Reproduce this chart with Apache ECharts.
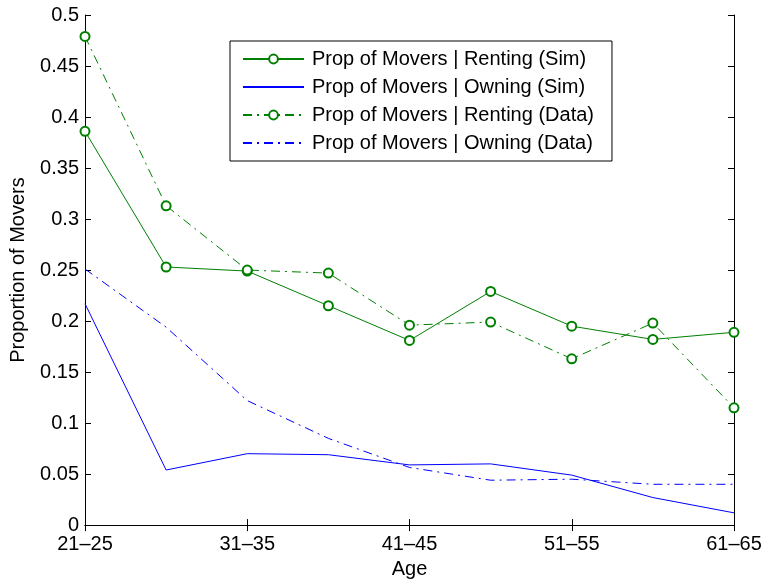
<!DOCTYPE html>
<html>
<head>
<meta charset="utf-8">
<script src="https://cdn.jsdelivr.net/npm/echarts@6/dist/echarts.min.js"></script>
<style>html,body{margin:0;padding:0;background:#fff}#c{width:768px;height:584px}</style>
</head>
<body>
<div id="c"></div>
<script>
const categories = ['21–25','26–30','31–35','36–40','41–45','46–50','51–55','56–60','61–65'];
const rentingSim  = [0.386, 0.253, 0.249, 0.215, 0.181, 0.229, 0.195, 0.182, 0.189];
const owningSim   = [0.217, 0.054, 0.070, 0.069, 0.059, 0.060, 0.049, 0.027, 0.012];
const rentingData = [0.479, 0.313, 0.250, 0.247, 0.196, 0.199, 0.163, 0.198, 0.115];
const owningData  = [0.251, 0.194, 0.122, 0.085, 0.0565, 0.044, 0.045, 0.040, 0.040];
const seriesNames = ['Prop of Movers | Renting (Sim)','Prop of Movers | Owning (Sim)','Prop of Movers | Renting (Data)','Prop of Movers | Owning (Data)'];

const FONT = 'Liberation Sans';
const FS = 20;
const green = '#008000', blue = '#0000ff';
const dashDot = [9, 5, 2, 5];

const chart = echarts.init(document.getElementById('c'), null, {renderer: 'canvas'});
const axisLine = {show: true, lineStyle: {color: '#000', width: 1}};
const tick = {show: true, inside: true, length: 6, lineStyle: {color: '#000', width: 1}};
chart.setOption({
  animation: false,
  backgroundColor: '#fff',
  textStyle: {fontFamily: FONT},
  grid: {left: 83, right: 34, top: 15, bottom: 56, containLabel: false},
  legend: {
    orient: 'vertical', left: 230, top: 41,
    data: [
      {name: seriesNames[0]},
      {name: seriesNames[1], itemStyle: {opacity: 0}},
      {name: seriesNames[2]},
      {name: seriesNames[3], itemStyle: {opacity: 0}}
    ],
    backgroundColor: '#fff', borderColor: '#000', borderWidth: 1,
    padding: [8, 18, 8, 12], itemGap: 8, itemWidth: 61, itemHeight: 11,
    textStyle: {fontFamily: FONT, fontSize: FS, color: '#000', padding: [0, 0, 0, 3]}
  },
  xAxis: [{
    type: 'category', data: categories, boundaryGap: false,
    name: 'Age', nameLocation: 'middle', nameGap: 33,
    nameTextStyle: {fontFamily: FONT, fontSize: FS, color: '#000'},
    axisLine: axisLine,
    axisTick: Object.assign({}, tick, {interval: 1}),
    axisLabel: {interval: 1, fontFamily: FONT, fontSize: FS, color: '#000', margin: 9},
    splitLine: {show: false}
  }, {
    type: 'category', data: categories, boundaryGap: false, position: 'top',
    axisLine: axisLine, axisTick: Object.assign({}, tick, {interval: 1}),
    axisLabel: {show: false}, splitLine: {show: false}
  }],
  yAxis: [{
    type: 'value', min: 0, max: 0.5, interval: 0.05,
    name: 'Proportion of Movers', nameLocation: 'middle', nameGap: 57,
    nameTextStyle: {fontFamily: FONT, fontSize: FS, color: '#000'},
    axisLine: axisLine, axisTick: tick,
    axisLabel: {fontFamily: FONT, fontSize: FS, color: '#000', margin: 6},
    splitLine: {show: false}
  }, {
    type: 'value', min: 0, max: 0.5, interval: 0.05, position: 'right',
    axisLine: axisLine, axisTick: tick, axisLabel: {show: false}, splitLine: {show: false}
  }],
  series: [
    {name: seriesNames[0], type: 'line', data: rentingSim, symbol: 'emptyCircle', symbolSize: 9,
     lineStyle: {color: green, width: 1, type: 'solid'}, itemStyle: {color: green, borderWidth: 0.9}},
    {name: seriesNames[1], type: 'line', data: owningSim, symbol: 'none',
     lineStyle: {color: blue, width: 1, type: 'solid'}, itemStyle: {color: blue}},
    {name: seriesNames[2], type: 'line', data: rentingData, symbol: 'emptyCircle', symbolSize: 9,
     lineStyle: {color: green, width: 1, type: dashDot}, itemStyle: {color: green, borderWidth: 0.9}},
    {name: seriesNames[3], type: 'line', data: owningData, symbol: 'none',
     lineStyle: {color: blue, width: 1, type: dashDot}, itemStyle: {color: blue}}
  ]
});
</script>
</body>
</html>
